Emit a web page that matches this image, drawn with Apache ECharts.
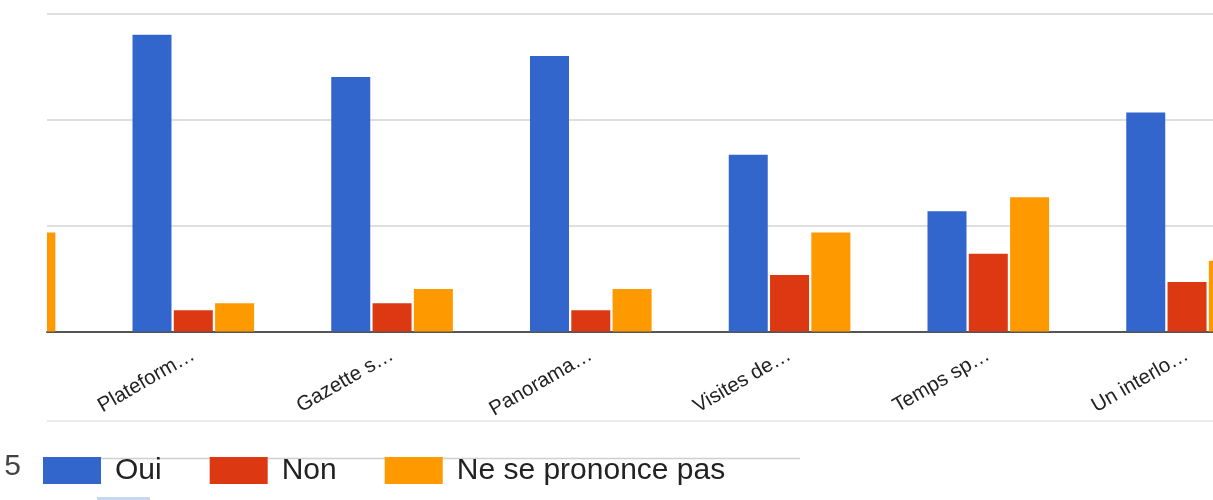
<!DOCTYPE html>
<html>
<head>
<meta charset="utf-8">
<script src="https://cdn.jsdelivr.net/npm/echarts@6/dist/echarts.min.js"></script>
<style>
  html, body { margin: 0; padding: 0; background: #fff; }
  #chart { width: 1213px; height: 500px; }
</style>
</head>
<body>
<div id="chart"></div>
<script>
// ---- data ----
// index -1 is the partly visible category at the left edge
const categoryIndex = [-1, 0, 1, 2, 3, 4, 5];
const categories = ['', 'Plateform…', 'Gazette s…', 'Panorama…', 'Visites de…', 'Temps sp…', 'Un interlo…'];
const seriesNames = ['Oui', 'Non', 'Ne se prononce pas'];
const oui = [null, 42, 36, 39, 25, 17, 31];
const non = [null, 3, 4, 3, 8, 11, 7];
const nsp = [14, 4, 6, 6, 14, 19, 10];
const yTicks = [0, 15, 30, 45];

// ---- layout ----
const FONT = '"Liberation Sans", Arial, sans-serif';
const slot = 0.2078; // offset of each bar within a group, in category units
const BAR_W = 39;
const colors = ['#3366cc', '#dc3912', '#ff9900'];

function pts(values, shift) {
  return categoryIndex.map((c, i) => [c + shift, values[i] == null ? '-' : values[i]]);
}

function renderBar(params, api) {
  const x = api.value(0), y = api.value(1);
  if (isNaN(x) || isNaN(y)) return null;
  const top = api.coord([x, y]);
  const base = api.coord([x, 0]);
  const cs = params.coordSys;
  const rect = echarts.graphic.clipRectByRect(
    { x: top[0] - BAR_W / 2, y: top[1], width: BAR_W, height: base[1] - top[1] },
    { x: cs.x, y: cs.y, width: cs.width, height: cs.height }
  );
  if (!rect) return null;
  return { type: 'rect', shape: rect, style: api.style() };
}

function barSeries(k, values, shift) {
  return {
    name: seriesNames[k],
    type: 'custom',
    renderItem: renderBar,
    itemStyle: { color: colors[k] },
    encode: { x: 0, y: 1 },
    data: pts(values, shift)
  };
}

const chart = echarts.init(document.getElementById('chart'), null, { renderer: 'canvas' });
chart.setOption({
  animation: false,
  backgroundColor: '#fff',
  color: colors,
  grid: { left: 47, right: 0, top: 13.5, bottom: 168.5, containLabel: false },
  xAxis: {
    type: 'value',
    min: -0.7361,
    max: 5.1306,
    splitLine: { show: false },
    axisTick: { show: false },
    axisLine: { show: true, onZero: false, lineStyle: { color: '#555', width: 2 } },
    axisLabel: {
      customValues: [0, 1, 2, 3, 4, 5],
      rotate: 30,
      margin: 22,
      fontFamily: FONT,
      fontSize: 20.5,
      color: '#222',
      formatter: v => categories[categoryIndex.indexOf(Math.round(v))] || ''
    }
  },
  yAxis: {
    type: 'value',
    min: yTicks[0],
    max: yTicks[yTicks.length - 1],
    interval: yTicks[1] - yTicks[0],
    axisLabel: { show: false },
    axisLine: { show: false },
    axisTick: { show: false },
    splitLine: { show: true, lineStyle: { color: '#d4d4d4', width: 1.5 } }
  },
  legend: {
    left: 43,
    top: 455.5,
    padding: 0,
    icon: 'rect',
    itemWidth: 58,
    itemHeight: 27,
    itemGap: 48,
    textStyle: { fontFamily: FONT, fontSize: 30, color: '#222', padding: [0, 0, 0, 9] },
    data: seriesNames
  },
  graphic: [
    { type: 'line', z: 0, shape: { x1: 47, y1: 421, x2: 1213, y2: 421 }, style: { stroke: '#ececec', lineWidth: 2 } },
    { type: 'line', z: 0, shape: { x1: 100, y1: 458.5, x2: 800, y2: 458.5 }, style: { stroke: '#cfcfcf', lineWidth: 1.5 } },
    { type: 'text', z: 0, x: 21, y: 467, style: { text: '5', font: '30px ' + FONT, fill: '#444', align: 'right', verticalAlign: 'middle' } },
    { type: 'rect', z: 0, shape: { x: 97, y: 497, width: 53, height: 3 }, style: { fill: '#c9d6f0' } }
  ],
  series: [
    barSeries(0, oui, -slot),
    barSeries(1, non, 0),
    barSeries(2, nsp, slot)
  ]
});
</script>
</body>
</html>
